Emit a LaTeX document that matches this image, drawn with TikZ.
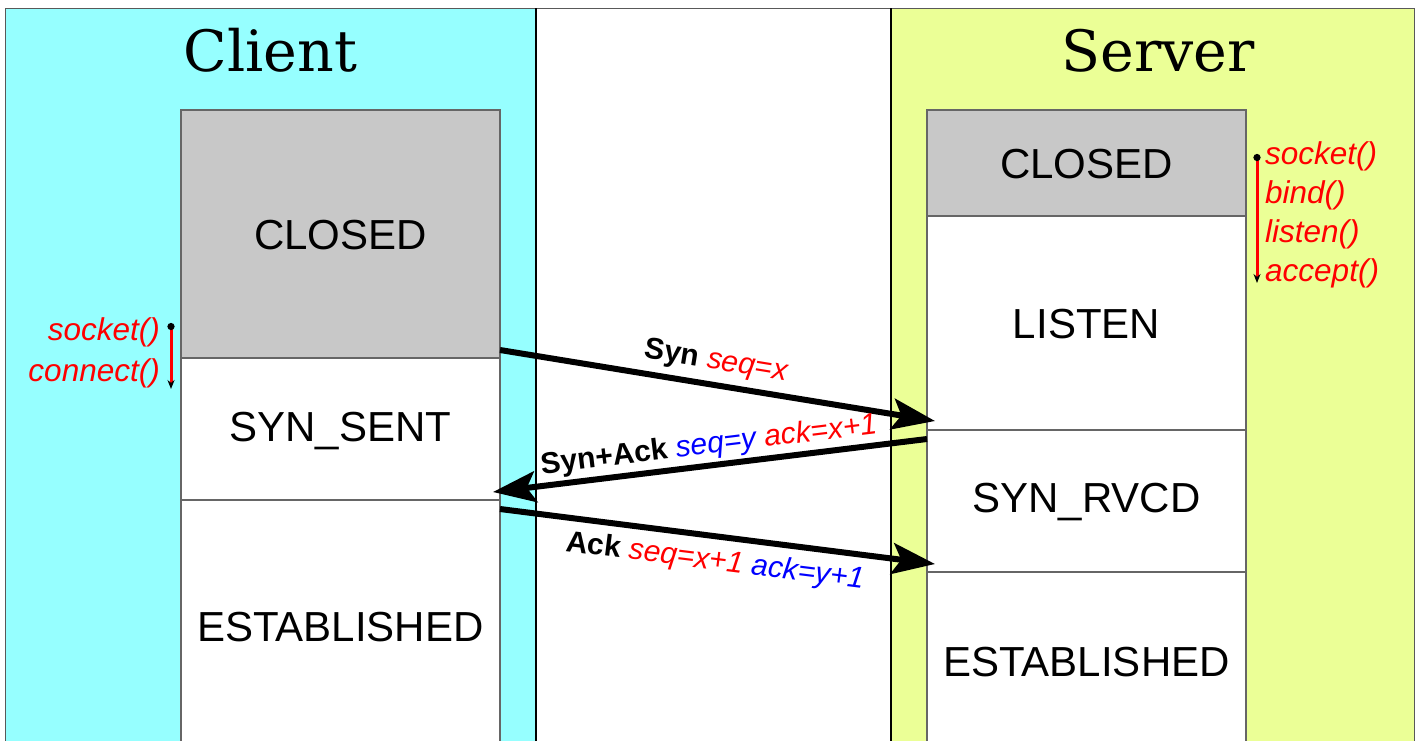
\documentclass[tikz,border=0pt]{standalone}
\usepackage{fontspec}
\setmainfont{Liberation Sans}
\newfontfamily\titlefont{DejaVu Serif}
\usetikzlibrary{arrows.meta}
\definecolor{clientbg}{HTML}{96FFFF}
\definecolor{serverbg}{HTML}{EBFF96}
\definecolor{closedgray}{HTML}{C8C8C8}
\begin{document}
\begin{tikzpicture}[x=1pt,y=-1pt,
  panel/.style={draw=gray!70!black, line width=0.8pt},
  divider/.style={draw=black, line width=2pt},
  statebox/.style={draw=black!60, line width=1.2pt, minimum width=319pt, inner sep=0pt,
    text height=30pt, text depth=0pt, font=\fontsize{42}{48}\selectfont},
  title/.style={font=\titlefont\fontsize{57}{64}\selectfont, inner sep=0pt},
  msg/.style={-{Stealth[length=43pt,width=31pt,inset=9pt]}, line width=6pt},
  call/.style={font=\itshape\fontsize{31.5}{40}\selectfont, text=red, inner sep=0pt},
  callarrow/.style={red, line width=3pt, {Circle[black,length=7pt]}-{Stealth[black,length=9pt,width=7pt]}},
  lbl/.style={font=\fontsize{30}{34}\selectfont, inner sep=0pt}
]
\useasboundingbox (0,0) rectangle (1419,740);
\clip (0,0) rectangle (1419,740);
\fill[white] (0,0) rectangle (1419,740);
% panels
\draw[panel, fill=clientbg] (5,8) rectangle (536,770);
\draw[panel, fill=serverbg] (891,8) rectangle (1414,770);
\draw[panel] (536,8) -- (891,8);
\draw[divider] (536,8) -- (536,760);
\draw[divider] (891,8) -- (891,760);
% titles
\node[title, anchor=base] (ctitle) at (270.5,71) {Client};
\node[title, anchor=base] (stitle) at (1158,71) {Server};
% client states
\node[statebox, fill=closedgray, minimum height=248pt] (cclosed) at (340.5,234) {CLOSED};
\node[statebox, fill=white, minimum height=142pt, text depth=5pt] (csent) at (340.5,429) {SYN\_SENT};
\node[statebox, fill=white, minimum height=252pt] (cest) at (340.5,626) {ESTABLISHED};
% server states
\node[statebox, fill=closedgray, minimum height=106pt] (sclosed) at (1086.5,163) {CLOSED};
\node[statebox, fill=white, minimum height=214pt] (slisten) at (1086.5,323) {LISTEN};
\node[statebox, fill=white, minimum height=142pt, text depth=8pt] (srvcd) at (1086.5,501) {SYN\_RVCD};
\node[statebox, fill=white, minimum height=178pt] (sest) at (1086.5,661) {ESTABLISHED};
% client calls
\node[call, anchor=base east] (csock) at (160,340) {socket()};
\node[call, anchor=base east] (cconn) at (160,381) {connect()};
\coordinate (ccallA) at (171,323);
\coordinate (ccallB) at (171,389);
\draw[callarrow] (ccallA) -- (ccallB);
% server calls
\node[call, anchor=base west] (ssock) at (1265,164) {socket()};
\node[call, anchor=base west] (sbind) at (1265,203) {bind()};
\node[call, anchor=base west] (slist) at (1265,242) {listen()};
\node[call, anchor=base west] (sacc) at (1265,281) {accept()};
\coordinate (scallA) at (1257,154);
\coordinate (scallB) at (1257,283);
\draw[callarrow] (scallA) -- (scallB);
% messages
\coordinate (synA) at (500,350);
\coordinate (synB) at (935,421);
\coordinate (saA) at (927,439);
\coordinate (saB) at (493,492);
\coordinate (ackA) at (500,509);
\coordinate (ackB) at (935,564);
\draw[msg] (synA) -- (synB);
\draw[msg] (saA) -- (saB);
\draw[msg] (ackA) -- (ackB);
\node[lbl, rotate=-9.2] (synlbl) at (716,362) {\bfseries Syn \mdseries\itshape\color{red}seq=x};
\node[lbl, rotate=7] (salbl) at (709,446) {\bfseries Syn+Ack \mdseries\itshape\color{blue}seq=y \color{red}ack=x+1};
\node[lbl, rotate=-7.1] (acklbl) at (715,562) {\bfseries Ack \mdseries\itshape\color{red}seq=x+1 \color{blue}ack=y+1};
\end{tikzpicture}
\end{document}
